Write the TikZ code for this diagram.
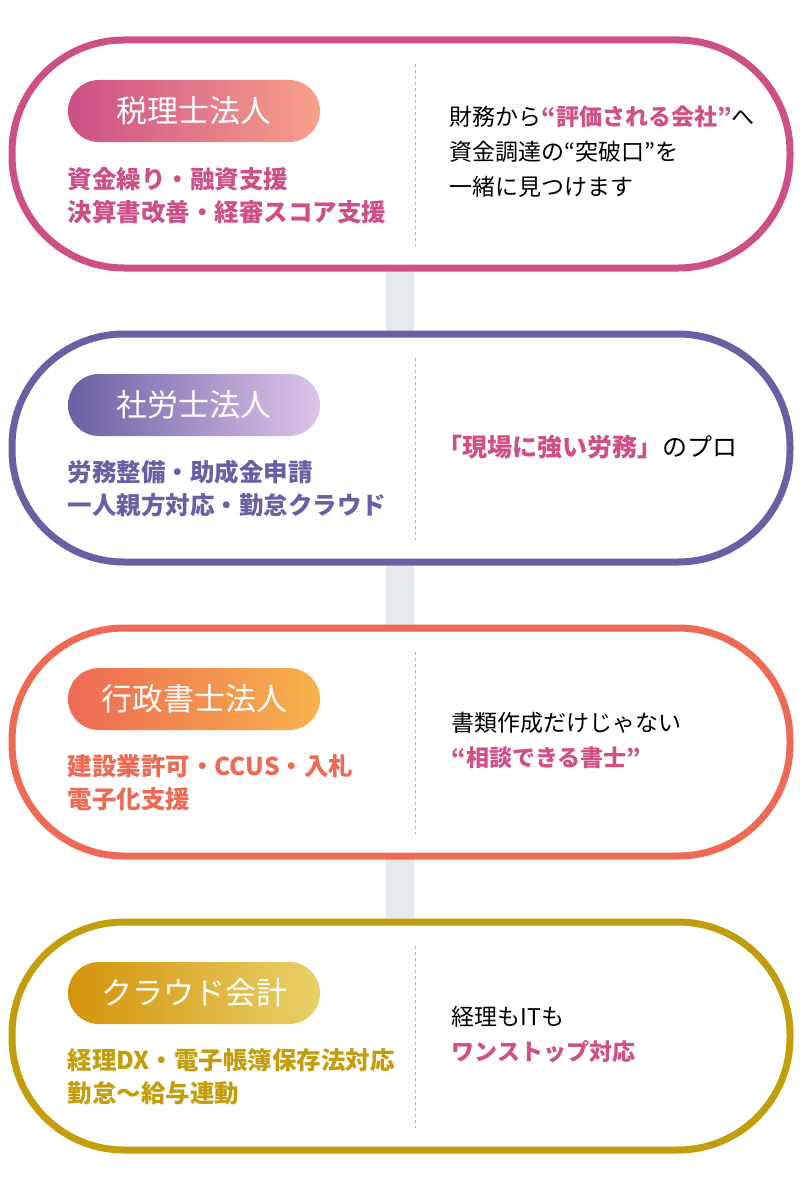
\documentclass[tikz,border=0pt]{standalone}
\usepackage{fontspec}
\setmainfont{Noto Sans CJK JP}
\usetikzlibrary{shapes.misc}
\definecolor{cA}{HTML}{CC4F86}\definecolor{cAe}{HTML}{F8A08A}
\definecolor{cB}{HTML}{6A5FA3}\definecolor{cBe}{HTML}{DEC4EA}
\definecolor{cC}{HTML}{EE6A55}\definecolor{cCe}{HTML}{F7B24A}
\definecolor{cD}{HTML}{C39E0C}\definecolor{cDs}{HTML}{D4930A}\definecolor{cDe}{HTML}{E8D068}
\definecolor{hl}{HTML}{D04F86}
\definecolor{bar}{HTML}{E6EAEE}
\tikzset{
 capsule/.style={draw=#1,line width=7pt,fill=white,rounded corners=112pt},
 pill/.style={rounded rectangle,minimum width=252pt,minimum height=62pt,text=white,font=\fontsize{31}{32}\selectfont,inner sep=0pt},
 sub/.style={anchor=west,text=#1,font=\fontsize{24.5}{33}\selectfont\bfseries,align=left},
 rt/.style={anchor=west,font=\fontsize{23}{35}\selectfont,align=left},
 sep/.style={draw=gray!60,dashed,line width=1pt}
}
\begin{document}
\begin{tikzpicture}[x=1pt,y=-1pt]
\useasboundingbox (0,0) rectangle (800,1188);
\fill[white] (0,0) rectangle (800,1188);
\foreach \a/\b in {268/333,560/627,855/920}{\fill[bar] (386,\a) rectangle (414,\b);}
\newcommand\blk[6]{%
 \draw[capsule=#2] (12,#1) rectangle (790,#1+228);
 \draw[sep] (415,#1+24) -- (415,#1+206);
 \node[pill,left color=#5,right color=#3] (p#6) at (194,#1+71) {#4};
}
\blk{40}{cA}{cAe}{税理士法人}{cA}{a}
\blk{334}{cB}{cBe}{社労士法人}{cB}{b}
\blk{628}{cC}{cCe}{行政書士法人}{cC}{c}
\blk{922}{cD}{cDe}{クラウド会計}{cDs}{d}
\node[sub=cA] (la) at (64,196) {資金繰り・融資支援\\決算書改善・経審スコア支援};
\node[sub=cB] (lb) at (64,489) {労務整備・助成金申請\\一人親方対応・勤怠クラウド};
\node[sub=cC] (lc) at (64,783) {建設業許可・CCUS・入札\\電子化支援};
\node[sub=cD] (ld) at (64,1077) {経理DX・電子帳簿保存法対応\\勤怠〜給与連動};
\node[rt] (ra) at (446,152) {財務から{\color{hl}\bfseries “評価される会社”}へ\\資金調達の“突破口”を\\一緒に見つけます};
\node[rt,font=\fontsize{25}{35}\selectfont] (rb) at (434,447) {{\color{hl}\bfseries 「現場に強い労務」}のプロ};
\node[rt] (rc) at (448,740) {書類作成だけじゃない\\{\color{hl}\bfseries “相談できる書士”}};
\node[rt] (rd) at (448,1035) {経理もITも\\{\color{hl}\bfseries ワンストップ対応}};
\end{tikzpicture}
\end{document}
